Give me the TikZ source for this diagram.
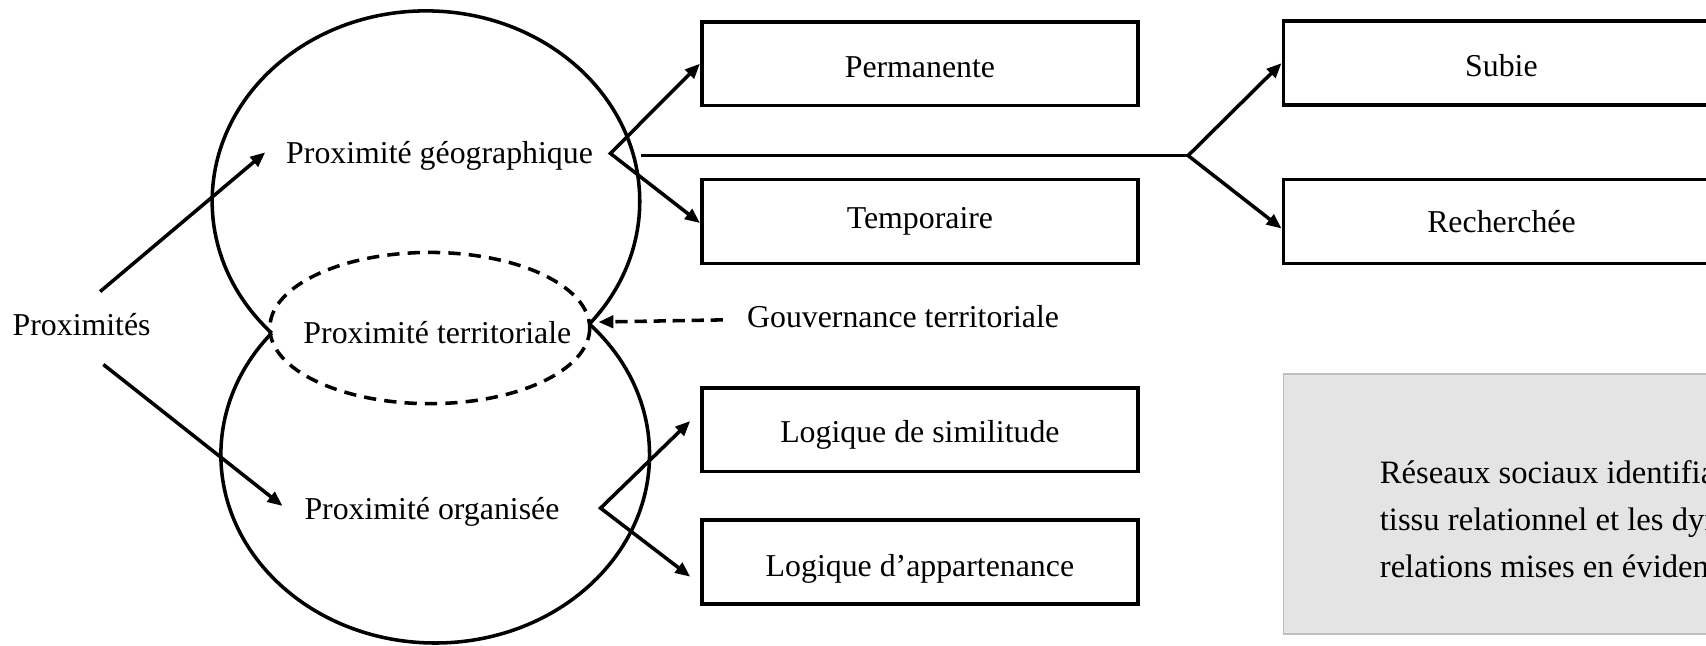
\documentclass[tikz,border=0pt]{standalone}
\usepackage{fontspec}
\setmainfont{Liberation Serif}
\usetikzlibrary{arrows.meta,calc}
\definecolor{greyfill}{HTML}{E4E4E4}
\definecolor{greyline}{HTML}{BEBEBE}
\newcommand{\mydown}[2]{\raisebox{-#1}[\height][\depth]{#2}}
\begin{document}
\begin{tikzpicture}[x=0.8pt,y=-0.8pt,
  lw/.style={line width=2.6pt},
  tip/.style={-{Triangle[length=11pt,width=9pt]}},
  arr/.style={lw,tip},
  dtip/.style={{Triangle[length=11pt,width=9pt]}-{Triangle[length=11pt,width=9pt]}},
  txt/.style={font=\fontsize{23.4pt}{28pt}\selectfont,inner sep=0pt},
  stepbox/.style={draw,lw,minimum width=320.8pt,minimum height=61.6pt,inner sep=0pt,
    font=\fontsize{23.4pt}{28pt}\selectfont},
  dashline/.style={lw,dash pattern=on 9pt off 6pt}]
\useasboundingbox (0,0) rectangle (1568,593);
\clip (0,0) rectangle (1568,593);

% circle centres
\coordinate (ctop) at (391.5,185);
\coordinate (cbot) at (400,418);

% outer arcs of the two circles
\begin{scope}[even odd rule]
  \clip (-20,-20) rectangle (1600,620) (cbot) ellipse [x radius=197, y radius=173];
  \draw[lw] (ctop) ellipse [x radius=196.5, y radius=175];
\end{scope}
\begin{scope}[even odd rule]
  \clip (-20,-20) rectangle (1600,620) (ctop) ellipse [x radius=196.5, y radius=175];
  \draw[lw] (cbot) ellipse [x radius=197, y radius=173];
\end{scope}

% dashed lens
\draw[dashline] (395,301.5) ellipse [x radius=147, y radius=69.5];

% text nodes
\node[txt] (prox) at (75,298) {Proximités};
\node[txt] (geo) at (404,143.5) {Proximité géographique};
\node[txt] (terr) at (402,306) {Proximité territoriale};
\node[txt] (org) at (397,470) {Proximité organisée};
\node[txt] (gouv) at (830,291) {Gouvernance territoriale};

% boxes
\node[stepbox] (perm) at (845.5,58.5) {\mydown{2.4pt}{Permanente}};
\node[stepbox] (temp) at (845.5,203.5) {Temporaire};
\node[stepbox] (simil) at (845.5,395) {\mydown{4pt}{Logique de similitude}};
\node[stepbox] (appart) at (845.5,516.5) {\mydown{4.8pt}{Logique d’appartenance}};
\node[stepbox] (subie) at (1380,58) {\mydown{1.6pt}{Subie}};
\node[stepbox] (rech) at (1380,203.5) {Recherchée};

% grey box
\node[draw=greyline,fill=greyfill,line width=1.2pt,minimum width=330pt,minimum height=191pt,
  anchor=north west,inner sep=0pt] (grey) at (1179,343) {};
\node[anchor=north west,inner sep=0pt,align=left,
  font=\fontsize{24pt}{34.4pt}\selectfont] (reseaux) at (1268,423)
  {Réseaux sociaux identifiant le\\tissu relationnel et les dynamiques\\relations mises en évidence};

% connectors: Proximités
\draw[arr] ($(prox.center)+(17,-30)$) -- ($(geo.west)+(-19,-3.5)$);
\draw[arr] ($(prox.center)+(20,37)$) -- ($(org.west)+(-20,-5)$);

% géographique branches
\coordinate (apexgeo) at (561,141);
\draw[lw,dtip] (perm.west) -- (apexgeo) -- ($(temp.west)+(0,1.5)$);
\coordinate (hstart) at (589,143);
\coordinate (fork) at (1092,143);
\draw[lw] (hstart) -- (fork);
\draw[lw,dtip] (subie.west) -- (fork) -- ($(rech.west)+(0,6.5)$);

% organisée branches
\coordinate (apexorg) at (552,467);
\draw[lw,dtip] ($(simil.west)+(-9,-8)$) -- (apexorg) -- ($(appart.west)+(-9,13.5)$);

% gouvernance
\coordinate (cusp) at (550,296);
\draw[lw,dash pattern=on 9pt off 5pt,tip] ($(gouv.west)+(-22,3)$) -- (cusp);
\end{tikzpicture}
\end{document}
